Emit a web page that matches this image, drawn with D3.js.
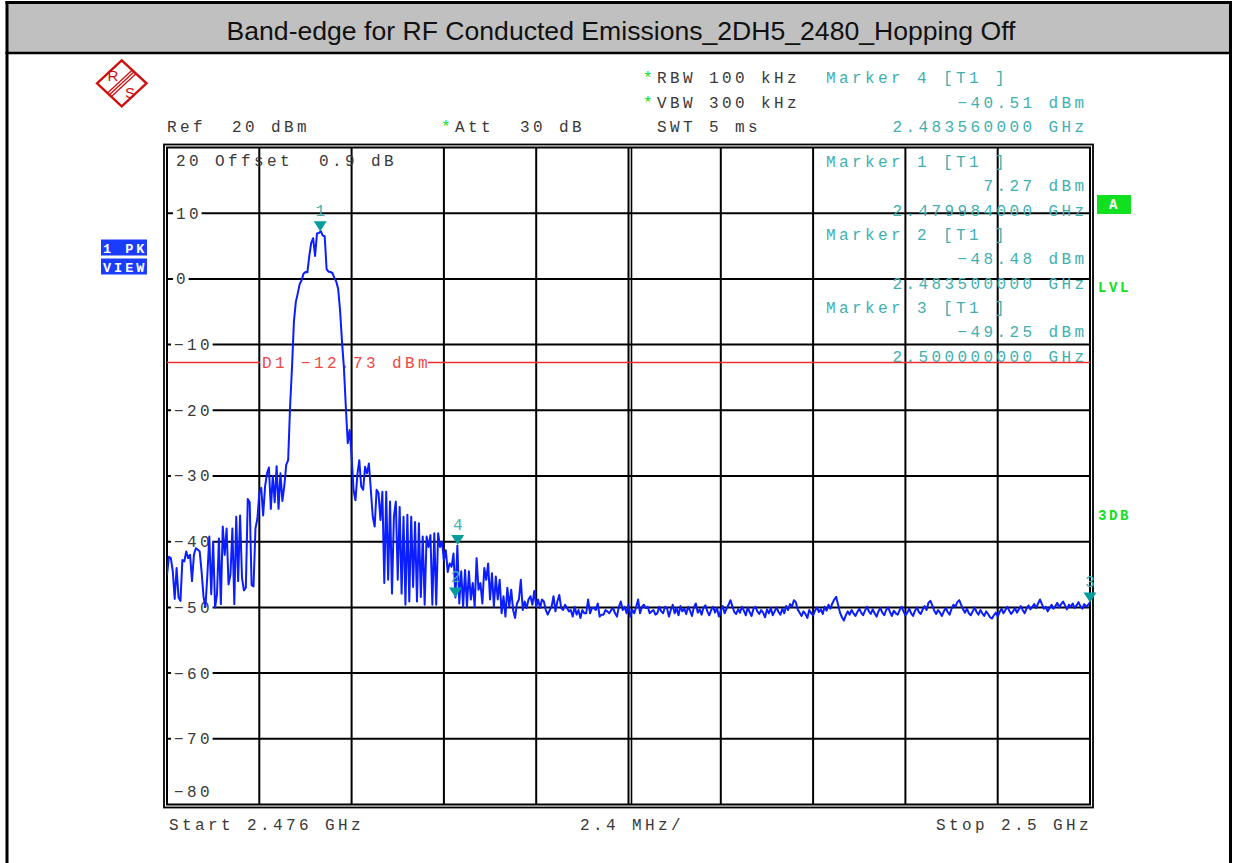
<!DOCTYPE html>
<html><head><meta charset="utf-8">
<script src="https://cdn.jsdelivr.net/npm/d3@7"></script>
<style>
html,body{margin:0;padding:0;background:#fff;}
svg{display:block;}
text{white-space:pre;}
</style></head><body>
<svg id="c" width="1235" height="863"></svg>
<script>
// ---------------- data ----------------
const titleText = "Band-edge for RF Conducted Emissions_2DH5_2480_Hopping Off";
const startGHz = 2.476;
const stopGHz = 2.5;
const refLevel = 20;
const bottomLevel = -80;
const yTickValues = [10, 0, -10, -20, -30, -40, -50, -60, -70];
const yTickLabels = ["10", "0", "\u221210", "\u221220", "\u221230", "\u221240", "\u221250", "\u221260", "\u221270"];
const xDivisions = 10;
const displayLineLevel = -12.73;
const displayLineLabel = "D1 \u221212.73 dBm";
const markerIds = [1, 2, 3, 4];
const markerFreqs = [2.479984, 2.4835, 2.5, 2.48356];
const markerLevels = [7.27, -48.48, -49.25, -40.51];
const markerLevelTexts = ["7.27 dBm", "\u221248.48 dBm", "\u221249.25 dBm", "\u221240.51 dBm"];
const markerFreqTexts = ["2.479984000 GHz", "2.483500000 GHz", "2.500000000 GHz", "2.483560000 GHz"];
const settingTexts = ["RBW 100 kHz", "VBW 300 kHz", "SWT 5 ms"];
const bottomTexts = ["Start 2.476 GHz", "2.4 MHz/", "Stop 2.5 GHz"];
// trace levels (dBm), 481 sweep points from 2.476 to 2.5 GHz
const traceLevels = [
-45,-42.3,-42.5,-44.5,-48.7,-44,-48.5,-49,-42.8,-43,-41.5,-42.5,-42,-46,-42,-41,-41.2,-41.5,-44.6,-48.4,
-49.9,-45,-39.2,-48,-40,-50,-48,-39.5,-49.5,-37.7,-42,-38,-46.5,-45,-38,-49.5,-36.2,-46,-36,-45.5,
-47.4,-47,-33.5,-34,-46.6,-46.8,-38,-36.5,-32.6,-31.8,-36,-31.6,-29.6,-28.7,-35,-30,-34,-28.5,-35,-29.6,
-33.8,-31.5,-28.3,-27.6,-19.5,-13.5,-6.5,-3.5,-2.2,-0.8,-0.2,0.8,1.05,1.0,3.5,5.5,6.2,3.5,6.9,7.0,
7.27,6.6,6.5,1.5,1.1,1.05,0.9,0.2,-0.4,-1.5,-4.8,-9.5,-13.5,-19.5,-25,-23,-27,-32.1,-33.7,-29.8,
-27.6,-31.6,-32.1,-28.6,-29.6,-28.1,-32.1,-36.2,-37.7,-32.1,-32.6,-36.7,-32.4,-46.3,-32.4,-45.8,-33.9,-47.9,-36.2,-33.9,
-45.8,-34.7,-47.9,-36.2,-49.6,-35.9,-49.1,-36.2,-46.9,-37,-49.1,-37.2,-48.4,-39.2,-49.6,-39.2,-40.8,-39,-49.6,-38.7,
-49.6,-38.7,-40.8,-40,-42.8,-41.3,-44.6,-43.3,-43.8,-41.8,-48.48,-40.6,-49.4,-44.5,-49.9,-44.3,-49.9,-44.5,-48.8,-46.3,
-49.9,-42.5,-47.3,-46.3,-49.4,-44,-45.8,-43.3,-48.8,-44.8,-49.9,-45.3,-48.8,-45.8,-50.9,-48.3,-51.4,-47,-49.9,-47.3,
-50.4,-51.6,-49.4,-48.8,-45.8,-50.4,-49.1,-50.1,-48.8,-48.3,-49.6,-47.5,-49.9,-48.8,-50.1,-48.8,-49.1,-50.4,-51.1,-50.4,
-49.9,-48.3,-50.6,-49.1,-48.1,-50.1,-50.4,-49.6,-50.1,-50.6,-50.4,-51.4,-49.9,-51.1,-50.4,-51.6,-50.4,-50.9,-50.9,-48.8,
-50.9,-50.1,-50.1,-50.4,-49.4,-51.4,-51.1,-51.1,-50.4,-50.6,-50.9,-50.4,-50.1,-50.9,-51.4,-49.9,-49.1,-50.4,-49.9,-50.9,
-49.6,-51.4,-50.4,-50.9,-49.9,-48.8,-50.9,-49.9,-49.6,-50.1,-49.9,-50.9,-50.6,-50.4,-51.1,-50.9,-49.9,-50.6,-50.9,-49.9,
-50.1,-51.4,-50.4,-49.6,-50.9,-50.1,-51.2,-49.8,-50.6,-50.2,-51.0,-49.9,-50.5,-51.3,-50.0,-49.4,-50.8,-50.3,-51.1,-50.0,
-49.7,-50.6,-51.2,-50.4,-49.9,-50.8,-50.1,-51.4,-50.5,-49.8,-50.9,-50.2,-49.6,-48.9,-49.8,-50.7,-51.0,-50.3,-50.8,-49.9,
-50.5,-51.2,-50.0,-50.7,-51.3,-50.2,-49.9,-50.6,-51.0,-50.4,-50.8,-51.5,-50.3,-50.9,-50.1,-51.2,-50.6,-50.0,-50.7,-51.1,
-50.2,-50.9,-49.8,-50.4,-49.5,-49.9,-48.9,-49.2,-50.3,-50.8,-51.3,-50.6,-51.0,-51.6,-50.4,-50.9,-51.2,-50.5,-50.0,-50.7,
-50.3,-51.0,-49.9,-50.5,-49.6,-50.2,-49.4,-48.8,-48.4,-49.6,-50.8,-51.5,-52.0,-51.2,-50.6,-51.1,-50.4,-50.9,-51.3,-50.7,
-50.2,-50.8,-51.2,-50.5,-49.9,-50.6,-51.0,-50.3,-50.9,-51.4,-50.6,-50.1,-50.8,-51.2,-50.4,-50.0,-50.7,-51.3,-50.5,-50.9,
-51.1,-50.4,-49.9,-50.6,-51.2,-50.8,-50.2,-50.9,-51.3,-50.5,-50.0,-50.7,-51.0,-50.3,-49.8,-50.4,-49.3,-49.0,-49.7,-50.5,
-51.0,-50.4,-50.8,-51.3,-50.6,-50.1,-50.7,-51.1,-50.2,-49.6,-49.9,-49.2,-48.9,-49.6,-50.3,-50.8,-50.2,-50.9,-51.2,-50.6,
-50.0,-50.7,-51.1,-50.4,-50.9,-51.3,-50.6,-51.0,-51.5,-51.7,-51.2,-50.8,-51.4,-50.7,-50.2,-50.9,-50.4,-49.9,-50.5,-51.0,
-50.6,-50.1,-50.8,-50.3,-49.8,-50.4,-50.9,-50.2,-49.7,-50.3,-49.9,-49.5,-50.1,-49.4,-48.8,-49.5,-50.2,-49.9,-50.6,-50.1,
-49.6,-50.2,-49.8,-49.3,-50.0,-49.5,-49.1,-49.7,-50.3,-49.6,-49.9,-49.4,-50.1,-49.7,-49.2,-49.8,-50.2,-49.5,-49.9,-49.6,-49.25
];

// ---------------- drawing ----------------
const svg = d3.select("#c");
const MONO = "'Liberation Mono','Courier New',monospace";
const FS = 16;
const ADV = 13.0, LS = ADV - 0.6 * FS;
const GRAY = "#3a3a3a", TEAL = "#3fb0b0", TEALD = "#069c9c", GREEN = "#10e020", RED = "#f03030", BLUE = "#0a1eff";

svg.append("rect").attr("x",0).attr("y",0).attr("width",1235).attr("height",863).attr("fill","#fff");

// outer frame + title bar
svg.append("rect").attr("x",8).attr("y",4).attr("width",1221).attr("height",48).attr("fill","#c0c0c0");
svg.append("line").attr("x1",5.5).attr("x2",1232).attr("y1",2.5).attr("y2",2.5).attr("stroke","#000").attr("stroke-width",3);
svg.append("line").attr("x1",5.5).attr("x2",1232).attr("y1",53).attr("y2",53).attr("stroke","#000").attr("stroke-width",2.6);
svg.append("line").attr("x1",7).attr("x2",7).attr("y1",1).attr("y2",863).attr("stroke","#000").attr("stroke-width",3);
svg.append("line").attr("x1",1230.5).attr("x2",1230.5).attr("y1",1).attr("y2",863).attr("stroke","#000").attr("stroke-width",3);
svg.append("text").attr("x",621).attr("y",39.5).attr("text-anchor","middle")
  .attr("font-family","'Liberation Sans',Arial,sans-serif").attr("font-size",26.6).attr("fill","#111").text(titleText);

// R&S logo
const logo = svg.append("g").attr("stroke","#d01010").attr("fill","none");
logo.append("polygon").attr("points","97,83.3 121.7,60.3 146.5,83.3 121.7,106.3").attr("stroke-width",2.4).attr("fill","#fff");
[-2.6,0,2.6].forEach(o=>{
  logo.append("line").attr("x1",109.4+o*0.7).attr("y1",94.8+o*0.72).attr("x2",134.1+o*0.7).attr("y2",71.8+o*0.72).attr("stroke-width",1.3);
});
svg.append("text").attr("x",113).attr("y",81).attr("text-anchor","middle").attr("font-family","'Liberation Sans',Arial,sans-serif")
  .attr("font-size",15).attr("fill","#d01010").text("R");
svg.append("text").attr("x",130).attr("y",98).attr("text-anchor","middle").attr("font-family","'Liberation Sans',Arial,sans-serif")
  .attr("font-size",15).attr("fill","#d01010").text("S");

function mono(x, y, str, color, opts) {
  opts = opts || {};
  const t = svg.append("text").attr("x",x).attr("y",y).attr("font-family",MONO)
    .attr("font-size",opts.size||FS).style("letter-spacing",(opts.ls!==undefined?opts.ls:LS)+"px")
    .attr("fill",color).text(str);
  if (opts.bold) t.attr("font-weight","bold");
  return t;
}
function monoRight(right, y, str, color) {
  const n = str.length;
  return mono(right - 9 - (n-1)*ADV, y, str, color);
}

// header settings
mono(167,132,"Ref  20 dBm",GRAY);
mono(441,132,"*",GREEN);
mono(455,132,"Att  30 dB",GRAY);
mono(643,83,"*",GREEN);
mono(657,83,settingTexts[0],GRAY);
mono(643,108,"*",GREEN);
mono(657,108,settingTexts[1],GRAY);
mono(657,132,settingTexts[2],GRAY);

// scales
const x = d3.scaleLinear().domain([startGHz, stopGHz]).range([167, 1090]);
const y = d3.scaleLinear().domain([bottomLevel, refLevel]).range([804.5, 147.5]);

// graticule
const grid = svg.append("g").attr("stroke","#000").attr("stroke-width",2);
const step = (stopGHz-startGHz)/xDivisions;
d3.range(1, xDivisions).forEach(k=>{
  const xx = x(startGHz + k*step);
  grid.append("line").attr("x1",xx).attr("x2",xx).attr("y1",y(refLevel)).attr("y2",y(bottomLevel));
  if (k === xDivisions/2) grid.append("line").attr("x1",xx+3).attr("x2",xx+3).attr("y1",y(refLevel)).attr("y2",y(bottomLevel)).attr("stroke-width",1.6);
});
yTickValues.forEach(v=>{
  grid.append("line").attr("x1",167).attr("x2",1090).attr("y1",y(v)).attr("y2",y(v));
});
// frames
svg.append("rect").attr("x",167).attr("y",147.5).attr("width",923).attr("height",657).attr("fill","none").attr("stroke","#000").attr("stroke-width",2);
svg.append("rect").attr("x",164).attr("y",144.5).attr("width",929).attr("height",663).attr("fill","none").attr("stroke","#000").attr("stroke-width",1.8);

// y tick labels with white background
yTickValues.forEach((v,i)=>{
  const lbl = yTickLabels[i];
  const x0 = lbl[0] === "\u2212" ? 174 : 176;
  const w = (lbl.length-1)*ADV + 9.6;
  svg.append("rect").attr("x",x0-3).attr("y",y(v)-6).attr("width",w+6).attr("height",12).attr("fill","#fff");
  mono(x0, y(v)+5.4, lbl, GRAY);
});
mono(176,166,"20 Offset  0.9 dB",GRAY);
mono(174,797,"\u221280",GRAY);

// marker info texts
mono(826,83,"Marker 4 [T1 ]",TEAL);
monoRight(1083.5,108,markerLevelTexts[3],TEAL);
monoRight(1083.5,132,markerFreqTexts[3],TEAL);
[0,1,2].forEach(k=>{
  const b = 167 + k*73;
  mono(826,b,"Marker "+markerIds[k]+" [T1 ]",TEAL);
  monoRight(1083.5,b+24.2,markerLevelTexts[k],TEAL);
  monoRight(1083.5,b+48.5,markerFreqTexts[k],TEAL);
});

// display line D1
const dy = y(displayLineLevel);
svg.append("line").attr("x1",167).attr("x2",260).attr("y1",dy).attr("y2",dy).attr("stroke",RED).attr("stroke-width",1.6);
svg.append("line").attr("x1",428).attr("x2",1090).attr("y1",dy).attr("y2",dy).attr("stroke",RED).attr("stroke-width",1.6);
mono(262,dy+5.5,displayLineLabel,"#f04848");

// trace
svg.append("clipPath").attr("id","pc").append("rect").attr("x",167).attr("y",147.5).attr("width",924).attr("height",657);
const freqs = traceLevels.map((_,i)=> startGHz + i*(stopGHz-startGHz)/(traceLevels.length-1));
const line = d3.line().x((d,i)=>x(freqs[i])).y(d=>y(d));
svg.append("path").attr("clip-path","url(#pc)").attr("d",line(traceLevels))
  .attr("fill","none").attr("stroke",BLUE).attr("stroke-width",2).attr("stroke-linejoin","round");

// markers
markerIds.forEach((id,k)=>{
  const mx = x(markerFreqs[k]), my = y(markerLevels[k]);
  svg.append("path").attr("d",`M${mx-6.5},${my-10} L${mx+6.5},${my-10} L${mx},${my} Z`).attr("fill",TEALD);
  mono(mx-4.8, my-15, String(id), TEAL);
});

// side annotations
svg.append("rect").attr("x",101).attr("y",239.5).attr("width",46).attr("height",16).attr("fill","#1a3cff");
svg.append("rect").attr("x",101).attr("y",258.5).attr("width",46).attr("height",16).attr("fill","#1a3cff");
mono(103,252.5,"1 PK","#fff",{bold:true,size:13.5,ls:3});
mono(103,271.5,"VIEW","#fff",{bold:true,size:13.5,ls:3});
svg.append("rect").attr("x",1097).attr("y",195).attr("width",34).attr("height",19).attr("fill",GREEN);
mono(1109,209,"A","#fff",{bold:true,size:14,ls:0});
mono(1098,292,"LVL",GREEN,{bold:true,size:14,ls:2.6});
mono(1098,520,"3DB",GREEN,{bold:true,size:14,ls:2.6});

// bottom texts
mono(169,830,bottomTexts[0],GRAY);
mono(580,830,bottomTexts[1],GRAY);
monoRight(1088,830,bottomTexts[2],GRAY);
</script>
</body></html>
